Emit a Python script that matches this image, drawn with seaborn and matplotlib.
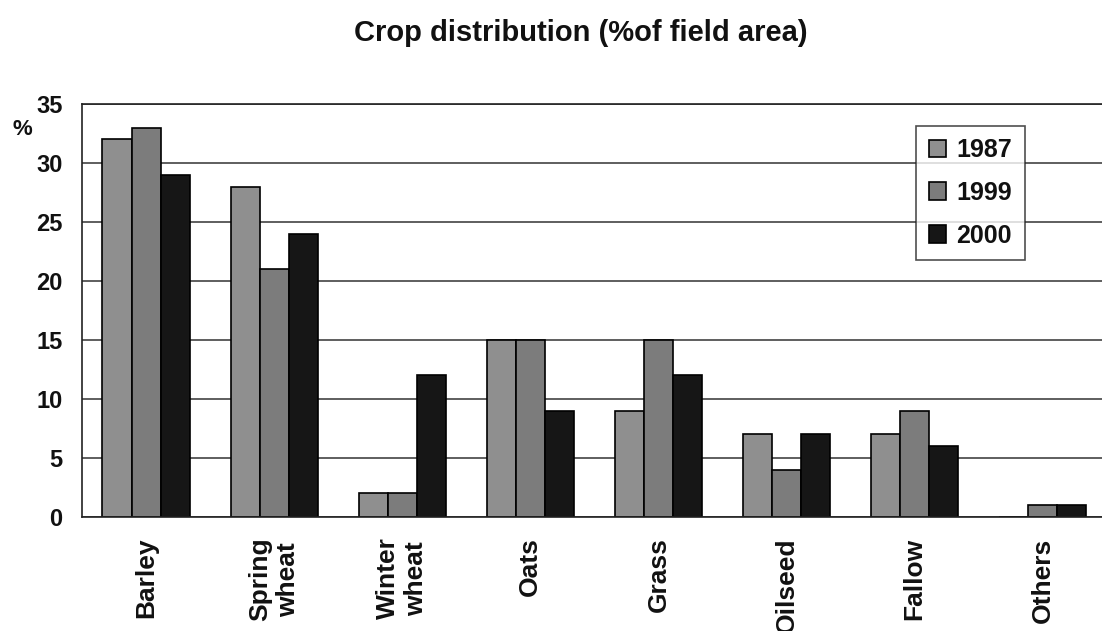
import matplotlib.pyplot as plt
import pandas as pd
import seaborn as sns
import numpy as np

CROPS = ["Barley", "Spring\nwheat", "Winter\nwheat", "Oats", "Grass", "Oilseed", "Fallow", "Others"]
YEARS = ["1987", "1999", "2000"]
V1987 = [32, 28, 2, 15, 9, 7, 7, 0]
V1999 = [33, 21, 2, 15, 15, 4, 9, 1]
V2000 = [29, 24, 12, 9, 12, 7, 6, 1]
COLORS = ["#8f8f8f", "#7c7c7c", "#161616"]

df = pd.DataFrame({"crop": CROPS * 3,
                   "year": [y for y in YEARS for _ in CROPS],
                   "value": V1987 + V1999 + V2000})

sns.set_style("white")
plt.rcParams["font.family"] = ["Liberation Sans", "DejaVu Sans"]
plt.rcParams["font.weight"] = "bold"

fig = plt.figure(figsize=(11.02, 6.31), dpi=100)
ax = fig.add_axes([0.0744, 0.181, 0.93, 0.654])

sns.barplot(data=df, x="crop", y="value", hue="year", palette=COLORS,
            width=0.68, edgecolor="black", linewidth=1.2, saturation=1,
            ax=ax, legend=True)

ax.set_ylim(0, 35)
ax.set_yticks(range(0, 36, 5))
ax.set_xlim(-0.5, 7.5)
ax.yaxis.grid(True, color="#333333", linewidth=1.1)
ax.set_axisbelow(True)
for s in ax.spines.values():
    s.set_color("#222222")
    s.set_linewidth(1.2)

ax.set_xlabel("")
ax.set_ylabel("")
ax.set_xticks(range(len(CROPS)))
ax.set_xticklabels(CROPS, rotation=90, fontsize=19, fontweight="bold",
                   color="#111111", va="top", ha="center")
ax.tick_params(axis="y", labelsize=17, labelcolor="#111111", length=0, pad=14)
ax.tick_params(axis="x", which="major", length=0, pad=15)
ax.set_xticks(np.arange(0.5, 7.5, 1), minor=True)
ax.tick_params(axis="x", which="minor", length=7, width=1.2, color="#222222", direction="out")
for lbl in ax.get_yticklabels():
    lbl.set_fontweight("bold")

fig.text(0.02, 0.795, "%", fontsize=16, fontweight="bold", color="#111111",
         ha="center", va="center")
fig.suptitle("Crop distribution (%of field area)", x=0.527, y=0.97,
             fontsize=21, fontweight="bold", color="#111111")

leg = ax.legend(loc="upper right", bbox_to_anchor=(0.932, 0.978), title=None,
                fontsize=18, frameon=True, fancybox=False, edgecolor="#222222",
                handlelength=0.7, handleheight=0.7, handletextpad=0.4,
                labelspacing=0.75, borderpad=0.5)
leg.get_frame().set_linewidth(1.2)
for t in leg.get_texts():
    t.set_fontweight("bold")
    t.set_color("#111111")

plt.savefig("out.png", dpi=100)
